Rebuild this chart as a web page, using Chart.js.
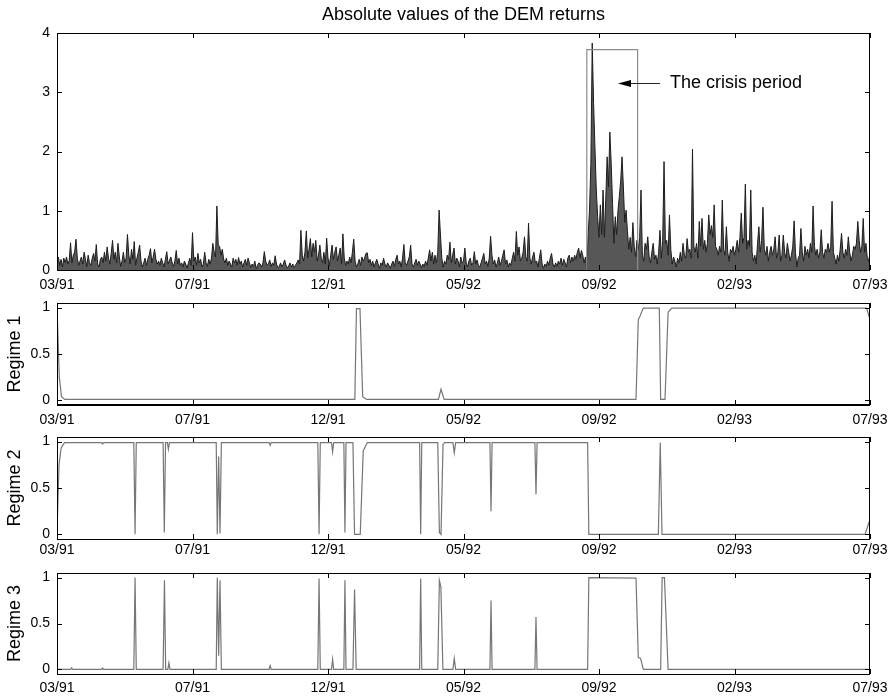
<!DOCTYPE html>
<html>
<head>
<meta charset="utf-8">
<title>DEM returns and regime probabilities</title>
<script src="https://cdn.jsdelivr.net/npm/chart.js@4.4.1/dist/chart.umd.min.js"></script>
<style>
  body { margin: 0; background: #fff; }
  #wrap { position: relative; width: 892px; height: 698px; overflow: hidden; }
  .panel { position: absolute; left: 0; width: 892px; }
</style>
</head>
<body>
<div id="wrap">
  <div class="panel" style="top:0;height:300px"><canvas id="returnsChart"></canvas></div>
  <div class="panel" style="top:300px;height:130px"><canvas id="regime1Chart"></canvas></div>
  <div class="panel" style="top:430px;height:134px"><canvas id="regime2Chart"></canvas></div>
  <div class="panel" style="top:564px;height:134px"><canvas id="regime3Chart"></canvas></div>
</div>
<script>
const FONT = '"Liberation Sans", Arial, Helvetica, sans-serif';

// x axis: trading-day index, labelled every 100 observations
const tickLabels = ['03/91', '07/91', '12/91', '05/92', '09/92', '02/93', '07/93'];
const tickStep = 100;
const nObs = 600;

const returnTicks = [0, 1, 2, 3, 4];
const regimeTicks = [0, 0.5, 1];

// |DEM returns|, one value per trading day
const absReturns = [
  0.15, 0.22, 0.08, 0.18, 0.05, 0.2, 0.12, 0.22, 0.1, 0.16,
  0.46, 0.12, 0.25, 0.3, 0.52, 0.2, 0.08, 0.15, 0.22, 0.1,
  0.3, 0.18, 0.06, 0.25, 0.12, 0.08, 0.2, 0.28, 0.15, 0.43,
  0.1, 0.05, 0.18, 0.22, 0.12, 0.3, 0.15, 0.39, 0.2, 0.1,
  0.28, 0.5, 0.18, 0.3, 0.12, 0.45, 0.22, 0.06, 0.15, 0.3,
  0.12, 0.2, 0.6, 0.25, 0.1, 0.35, 0.18, 0.48, 0.08, 0.2,
  0.3, 0.42, 0.15, 0.05, 0.12, 0.2, 0.08, 0.18, 0.25, 0.36,
  0.12, 0.22, 0.35, 0.18, 0.1, 0.15, 0.08, 0.2, 0.12, 0.05,
  0.18, 0.31, 0.1, 0.16, 0.22, 0.12, 0.06, 0.15, 0.33, 0.1,
  0.2, 0.08, 0.12, 0.05, 0.15, 0.1, 0.03, 0.12, 0.2, 0.08,
  0.63, 0.15, 0.22, 0.08, 0.28, 0.12, 0.18, 0.05, 0.1, 0.3,
  0.12, 0.06, 0.18, 0.1, 0.2, 0.45, 0.3, 0.22, 1.08, 0.42,
  0.4, 0.25, 0.35, 0.18, 0.12, 0.2, 0.08, 0.15, 0.1, 0.05,
  0.2, 0.12, 0.18, 0.08, 0.21, 0.1, 0.15, 0.05, 0.12, 0.18,
  0.08, 0.2, 0.12, 0.04, 0.1, 0.06, 0.15, 0.02, 0.08, 0.12,
  0.1, 0.05, 0.12, 0.31, 0.15, 0.08, 0.1, 0.17, 0.06, 0.12,
  0.08, 0.24, 0.1, 0.04, 0.06, 0.12, 0.05, 0.1, 0.17, 0.08,
  0.03, 0.07, 0.12, 0.05, 0.1, 0.04, 0.08, 0.12, 0.17, 0.1,
  0.67, 0.25, 0.15, 0.3, 0.66, 0.2, 0.35, 0.53, 0.22, 0.45,
  0.3, 0.5, 0.15, 0.25, 0.42, 0.2, 0.12, 0.3, 0.1, 0.54,
  0.2, 0.08, 0.25, 0.42, 0.18, 0.3, 0.39, 0.15, 0.25, 0.37,
  0.1, 0.61, 0.2, 0.08, 0.15, 0.1, 0.22, 0.12, 0.3, 0.52,
  0.15, 0.05, 0.1, 0.18, 0.08, 0.22, 0.15, 0.2, 0.28, 0.29,
  0.12, 0.18, 0.08, 0.15, 0.05, 0.12, 0.18, 0.1, 0.03, 0.12,
  0.08, 0.2, 0.1, 0.05, 0.12, 0.08, 0.03, 0.1, 0.15, 0.06,
  0.18, 0.25, 0.1, 0.15, 0.05, 0.2, 0.43, 0.12, 0.08, 0.15,
  0.22, 0.42, 0.1, 0.05, 0.12, 0.18, 0.08, 0.15, 0.1, 0.04,
  0.1, 0.06, 0.15, 0.08, 0.2, 0.34, 0.15, 0.3, 0.1, 0.25,
  0.12, 0.3, 1.01, 0.59, 0.2, 0.05, 0.15, 0.1, 0.25, 0.18,
  0.47, 0.12, 0.25, 0.37, 0.1, 0.2, 0.15, 0.05, 0.22, 0.12,
  0.15, 0.37, 0.12, 0.05, 0.15, 0.2, 0.08, 0.12, 0.31, 0.1,
  0.17, 0.08, 0.05, 0.12, 0.2, 0.28, 0.1, 0.15, 0.06, 0.2,
  0.57, 0.25, 0.1, 0.17, 0.05, 0.12, 0.22, 0.08, 0.15, 0.25,
  0.34, 0.1, 0.17, 0.05, 0.12, 0.08, 0.2, 0.3, 0.15, 0.65,
  0.25, 0.39, 0.15, 0.2, 0.3, 0.56, 0.22, 0.15, 0.79, 0.2,
  0.1, 0.22, 0.3, 0.12, 0.15, 0.05, 0.2, 0.34, 0.1, 0.03,
  0.1, 0.06, 0.15, 0.08, 0.2, 0.28, 0.1, 0.05, 0.12, 0.06,
  0.15, 0.1, 0.2, 0.08, 0.18, 0.12, 0.05, 0.2, 0.25, 0.12,
  0.22, 0.15, 0.25, 0.18, 0.3, 0.37, 0.2, 0.33, 0.25, 0.12,
  0.22, 0.0, 0.6, 1.01, 1.8, 3.83, 2.81, 2.08, 1.35, 0.9,
  0.55, 1.1, 0.6, 1.35, 0.55, 1.2, 1.91, 1.4, 2.33, 1.8,
  1.12, 0.45, 0.9, 0.6, 1.0, 1.24, 1.5, 1.91, 1.4, 0.8,
  1.01, 0.65, 0.35, 0.55, 0.3, 0.8, 0.4, 0.22, 0.5, 0.35,
  0.55, 1.35, 0.25, 0.15, 0.45, 0.35, 0.56, 0.22, 0.12, 0.3,
  0.45, 0.18, 0.25, 0.1, 0.3, 0.67, 0.2, 0.5, 1.83, 0.45,
  0.5, 0.25, 0.93, 0.35, 0.1, 0.22, 0.15, 0.05, 0.2, 0.12,
  0.3, 0.15, 0.45, 0.25, 0.2, 0.53, 0.3, 0.35, 0.2, 2.04,
  0.4, 0.3, 0.45, 0.2, 0.82, 0.4, 0.87, 0.35, 0.5, 0.3,
  0.45, 0.93, 0.6, 0.75, 0.55, 1.1, 0.4, 0.35, 0.25, 0.4,
  0.3, 1.18, 0.35, 0.25, 0.73, 0.3, 0.15, 0.35, 0.3, 0.4,
  0.25, 0.35, 0.5, 0.3, 0.55, 0.96, 0.45, 0.55, 1.45, 0.35,
  0.5, 0.4, 1.35, 0.3, 0.15, 0.25, 0.1, 0.45, 0.73, 0.3,
  0.5, 1.06, 0.35, 0.25, 0.4, 0.15, 0.3, 0.4, 0.25, 0.35,
  0.56, 0.2, 0.3, 0.59, 0.15, 0.25, 0.59, 0.3, 0.2, 0.45,
  0.3, 0.15, 0.25, 0.4, 0.83, 0.3, 0.05, 0.2, 0.25, 0.7,
  0.3, 0.15, 0.4, 0.25, 0.35, 0.2, 0.45, 0.3, 1.08, 0.4,
  0.25, 0.35, 0.2, 0.3, 0.68, 0.3, 0.2, 0.35, 0.3, 0.45,
  0.3, 0.4, 1.16, 0.3, 0.2, 0.1, 0.25, 0.15, 0.35, 0.62,
  0.3, 0.2, 0.35, 0.25, 0.56, 0.3, 0.15, 0.25, 0.4, 0.35,
  0.45, 0.82, 0.5, 0.3, 0.4, 0.87, 0.3, 0.45, 0.2, 0.15,
  0.3
];

// crisis window outline, [day, level]
const crisisBox = [[391, 0], [391, 3.72], [428.5, 3.72], [428.5, 0]];

// smoothed regime probabilities, [day, probability] at each turning point
const regime1 = [
  [0, 1], [1.7, 0.25], [3.3, 0.04], [5.8, 0.01], [219.8, 0.01], [221, 0.99], [223.6, 0.99],
  [225.6, 0.04], [228.5, 0.01], [281.5, 0.01], [283.4, 0.12], [285.7, 0.01], [427.3, 0.01],
  [429, 0.87], [430.3, 0.91], [432.7, 0.995], [444.5, 0.995], [445.5, 0.01], [448.7, 0.01],
  [451, 0.95], [453.6, 0.995], [597.5, 0.995], [600, 0.87]
];
const regime2 = [
  [0, 0.02], [1.5, 0.75], [3, 0.93], [5.5, 0.99], [33, 0.99], [33.7, 0.975], [34.5, 0.99],
  [56.7, 0.99], [57.6, 0], [58.5, 0.99], [78.3, 0.99], [79.2, 0.02], [80.1, 0.99],
  [81.5, 0.99], [82.2, 0.92], [83, 0.99], [117.5, 0.99], [118.3, 0], [119.3, 0.84],
  [120.3, 0.01], [121.3, 0.99], [156.5, 0.99], [157.3, 0.96], [158.1, 0.99],
  [192.5, 0.99], [193.4, 0], [194.3, 0.99], [202.6, 0.99], [203.4, 0.89], [204.2, 0.99],
  [211.7, 0.99], [212.5, 0.02], [213.3, 0.99], [218.4, 0.99], [219.6, 0], [223.8, 0],
  [226, 0.9], [229, 0.99], [267.6, 0.99], [268.4, 0], [269.2, 0.99], [281, 0.99],
  [282.2, 0.02], [283.4, 0], [284.9, 0.97], [286, 0.99], [292.2, 0.99], [293.2, 0.88],
  [294.2, 0.99], [319.5, 0.99], [320.3, 0.25], [321.1, 0.99], [352.7, 0.99], [353.5, 0.43],
  [354.3, 0.99], [391.6, 0.99], [392.5, 0], [443.8, 0], [445.2, 0.99], [446.5, 0],
  [596.3, 0], [600, 0.16]
];
const regime3 = [
  [0, 0], [10, 0], [10.8, 0.015], [11.6, 0], [33, 0], [33.7, 0.015], [34.4, 0],
  [56.7, 0], [57.6, 1], [58.5, 0], [78.3, 0], [79.3, 0.97], [80.2, 0], [81.8, 0],
  [82.6, 0.07], [83.4, 0], [117.5, 0], [118.3, 1], [119.3, 0.15], [120.3, 0.97],
  [121.3, 0], [156.5, 0], [157.3, 0.04], [158.1, 0], [192.5, 0], [193.4, 0.99], [194.3, 0],
  [202.6, 0], [203.4, 0.11], [204.2, 0], [211.7, 0], [212.5, 0.97], [213.3, 0],
  [218.4, 0], [219.6, 0.87], [220.8, 0], [267.6, 0], [268.4, 0.99], [269.2, 0],
  [281, 0], [282.2, 0.97], [283.3, 0.9], [284.8, 0], [292.2, 0], [293.2, 0.12], [294.2, 0],
  [319.5, 0], [320.3, 0.75], [321.1, 0], [352.7, 0], [353.5, 0.57], [354.3, 0],
  [391.6, 0], [392.5, 1], [427.3, 0.995], [429, 0.13], [430.7, 0.12], [432.7, 0],
  [445.5, 0], [446.6, 1], [448.3, 1], [451, 0], [600, 0]
];

function toPoints(pairs) {
  return pairs.map(p => ({ x: p[0], y: p[1] }));
}

// box round the plot area with inward tick marks on all four sides
const framePlugin = {
  id: 'frame',
  afterDatasetsDraw(chart, args, opts) {
    const { ctx, chartArea: a, scales } = chart;
    ctx.save();
    ctx.strokeStyle = '#000';
    ctx.lineWidth = 1;
    ctx.beginPath();
    scales.x.ticks.forEach(t => {
      const px = Math.round(scales.x.getPixelForValue(t.value)) + 0.5;
      ctx.moveTo(px, a.top);
      ctx.lineTo(px, a.top + 5);
      ctx.moveTo(px, a.bottom);
      ctx.lineTo(px, a.bottom - 5);
    });
    scales.y.ticks.forEach(t => {
      const py = Math.round(scales.y.getPixelForValue(t.value)) + 0.5;
      ctx.moveTo(a.left, py);
      ctx.lineTo(a.left + 5, py);
      ctx.moveTo(a.right, py);
      ctx.lineTo(a.right - 5, py);
    });
    ctx.stroke();
    ctx.strokeRect(a.left + 0.5, a.top + 0.5, a.right - a.left - 1, a.bottom - a.top);
    if (opts.bottomWidth) {
      ctx.lineWidth = opts.bottomWidth;
      ctx.beginPath();
      ctx.moveTo(a.left, a.bottom);
      ctx.lineTo(a.right, a.bottom);
      ctx.stroke();
    }
    ctx.fillStyle = '#000';
    if (opts.ylabel) {
      ctx.save();
      ctx.translate(15, (a.top + a.bottom) / 2);
      ctx.rotate(-Math.PI / 2);
      ctx.font = '18px ' + FONT;
      ctx.textAlign = 'center';
      ctx.textBaseline = 'middle';
      ctx.fillText(opts.ylabel, 0, 0);
      ctx.restore();
    }
    if (opts.title) {
      ctx.font = '18px ' + FONT;
      ctx.textAlign = 'center';
      ctx.textBaseline = 'middle';
      ctx.fillText(opts.title, (a.left + a.right) / 2, 15);
    }
    ctx.restore();
  }
};

// arrow and caption pointing into the crisis window
const crisisNote = {
  id: 'crisisNote',
  afterDatasetsDraw(chart) {
    const { ctx, scales: { x, y } } = chart;
    const py = Math.round(y.getPixelForValue(3.16)) + 0.5;
    const tail = x.getPixelForValue(445);
    const head = x.getPixelForValue(414);
    ctx.save();
    ctx.strokeStyle = '#222';
    ctx.lineWidth = 1.2;
    ctx.beginPath();
    ctx.moveTo(tail, py);
    ctx.lineTo(head + 10, py);
    ctx.stroke();
    ctx.fillStyle = '#000';
    ctx.beginPath();
    ctx.moveTo(head, py);
    ctx.lineTo(head + 13, py - 3.5);
    ctx.lineTo(head + 13, py + 3.5);
    ctx.closePath();
    ctx.fill();
    ctx.font = '18px ' + FONT;
    ctx.textAlign = 'left';
    ctx.textBaseline = 'middle';
    ctx.fillText('The crisis period', x.getPixelForValue(452.4), py);
    ctx.restore();
  }
};

function panelOptions(cfg) {
  return {
    responsive: true,
    maintainAspectRatio: false,
    animation: false,
    events: [],
    layout: { padding: { top: cfg.padTop, right: 22, left: 0, bottom: 0 } },
    plugins: {
      legend: { display: false },
      tooltip: { enabled: false },
      frame: { ylabel: cfg.ylabel, title: cfg.title, bottomWidth: cfg.bottomWidth }
    },
    scales: {
      x: {
        type: 'linear',
        min: 0,
        max: nObs,
        grid: { display: false, drawTicks: false },
        border: { display: false },
        afterBuildTicks: s => { s.ticks = tickLabels.map((_, i) => ({ value: i * tickStep })); },
        afterFit: s => { s.height = cfg.xHeight; s.paddingLeft = 0; s.paddingRight = 0; },
        ticks: {
          autoSkip: false,
          maxRotation: 0,
          padding: cfg.labelPad,
          color: '#000',
          font: { family: FONT, size: 14 },
          callback: v => tickLabels[Math.round(v / tickStep)]
        }
      },
      y: {
        type: 'linear',
        min: cfg.min,
        max: cfg.max,
        grid: { display: false, drawTicks: false },
        border: { display: false },
        afterBuildTicks: s => { s.ticks = cfg.ticks.map(v => ({ value: v })); },
        afterFit: s => { s.width = 57; s.paddingTop = 0; s.paddingBottom = 0; },
        ticks: {
          padding: 7,
          color: '#000',
          font: { family: FONT, size: 14 },
          callback: v => String(v)
        }
      }
    }
  };
}

Chart.register(framePlugin);

new Chart(document.getElementById('returnsChart'), {
  type: 'line',
  data: {
    datasets: [
      {
        data: toPoints(crisisBox),
        borderColor: '#8c8c8c',
        borderWidth: 1.2,
        pointRadius: 0,
        fill: false,
        order: 0
      },
      {
        data: absReturns.map((v, i) => ({ x: i, y: v })),
        borderColor: '#1c1c1c',
        borderWidth: 1,
        backgroundColor: '#575757',
        pointRadius: 0,
        fill: 'origin',
        order: 1
      }
    ]
  },
  options: panelOptions({
    padTop: 33, xHeight: 30, labelPad: 7, min: 0, max: 4, ticks: returnTicks,
    title: 'Absolute values of the DEM returns'
  }),
  plugins: [crisisNote]
});

const regimePanels = [
  { id: 'regime1Chart', data: regime1, label: 'Regime 1', padTop: 3, xHeight: 25, labelPad: 7, bottomWidth: 2 },
  { id: 'regime2Chart', data: regime2, label: 'Regime 2', padTop: 7, xHeight: 25, labelPad: 3 },
  { id: 'regime3Chart', data: regime3, label: 'Regime 3', padTop: 9, xHeight: 24, labelPad: 6 }
];

regimePanels.forEach(p => {
  new Chart(document.getElementById(p.id), {
    type: 'line',
    data: {
      datasets: [{
        data: toPoints(p.data),
        borderColor: '#767676',
        borderWidth: 1.2,
        pointRadius: 0,
        fill: false
      }]
    },
    options: panelOptions({
      padTop: p.padTop, xHeight: p.xHeight, labelPad: p.labelPad,
      min: -0.05, max: 1.05, ticks: regimeTicks,
      ylabel: p.label, bottomWidth: p.bottomWidth
    })
  });
});
</script>
</body>
</html>
